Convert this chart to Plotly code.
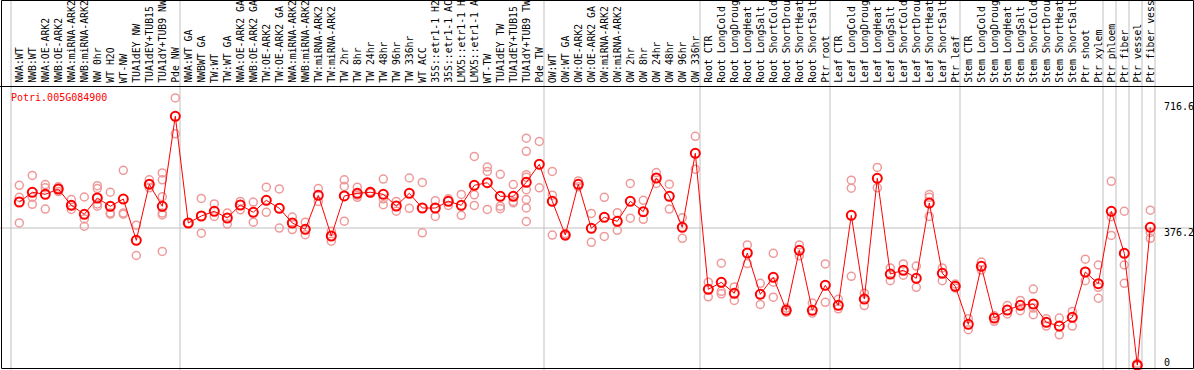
import plotly.graph_objects as go

# ---------------- data ----------------
gene = "Potri.005G084900"

labels = [
    "NWA:WT", "NWB:WT", "NWA:OE-ARK2", "NWB:OE-ARK2", "NWA:miRNA-ARK2", "NWB:miRNA-ARK2",
    "NW 0hr", "WT H2O", "WT-NW", "TUA1dEY NW", "TUA1dEY+TUB15", "TUA1dY+TUB9 NW", "Pde NW",
    "NWA:WT GA", "NWBWT GA", "TW:WT", "TW:WT GA", "NWA:OE-ARK2 GA", "NWB:OE-ARK2 GA",
    "TW:OE-ARK2", "TW:OE-ARK2 GA", "NWA:miRNA-ARK2", "NWB:miRNA-ARK2", "TW:miRNA-ARK2",
    "TW:miRNA-ARK2", "TW 2hr", "TW 8hr", "TW 24hr", "TW 48hr", "TW 96hr", "TW 336hr",
    "WT ACC", "35S::etr1-1 H2", "35S::etr1-1 AC", "LMX5::etr1-1 H", "LMX5::etr1-1 A",
    "WT-TW", "TUA1dEY TW", "TUA1dEY+TUB15", "TUA1dY+TUB9 TW", "Pde TW",
    "OW:WT", "OW:WT GA", "OW:OE-ARK2", "OW:OE-ARK2 GA", "OW:miRNA-ARK2", "OW:miRNA-ARK2",
    "OW 2hr", "OW 8hr", "OW 24hr", "OW 48hr", "OW 96hr", "OW 336hr",
    "Root CTR", "Root LongCold", "Root LongDroug", "Root LongHeat", "Root LongSalt",
    "Root ShortCold", "Root ShortDrou", "Root ShortHeat", "Root ShortSalt", "Ptr root",
    "Leaf CTR", "Leaf LongCold", "Leaf LongDroug", "Leaf LongHeat", "Leaf LongSalt",
    "Leaf ShortCold", "Leaf ShortDrou", "Leaf ShortHeat", "Leaf ShortSalt", "Ptr leaf",
    "Stem CTR", "Stem LongCold", "Stem LongDroug", "Stem LongHeat", "Stem LongSalt",
    "Stem ShortCold", "Stem ShortDrou", "Stem ShortHeat", "Stem ShortSalt", "Ptr shoot",
    "Ptr xylem", "Ptr phloem", "Ptr fiber", "Ptr vessel", "Ptr fiber vess",
]

means = [
    447.3, 473.9, 468.4, 482.9, 438.3, 413.7, 458.3, 435.6, 455.5, 342.5, 495.8, 435.6, 681.8,
    389.9, 409.0, 421.9, 403.6, 439.1, 419.2, 452.0, 430.1, 389.9, 372.6, 465.7, 354.3, 463.8,
    471.1, 473.9, 468.4, 436.4, 471.1, 430.9, 430.9, 449.3, 438.3, 493.0, 500.1, 462.9, 462.9,
    501.2, 550.5,
    449.3, 357.0, 495.8, 375.4, 405.5, 394.5, 449.3, 420.8, 513.0, 462.9, 378.1, 580.6,
    208.5, 227.6, 197.5, 307.8, 194.8, 241.3, 151.0, 315.2, 151.0, 219.4,
    164.7, 410.9, 181.9, 512.2, 250.3, 260.5, 238.6, 444.6, 252.3, 216.7,
    112.7, 271.4, 130.0, 151.8, 164.7, 168.3, 118.2, 108.1, 131.9, 255.8, 223.8,
    421.9, 307.0, 1.0, 378.1,
]

replicates = [
    [493, 460, 390], [520, 460, 441], [495, 486, 428], [489, 484, 476], [454, 438, 427],
    [461, 401, 381], [492, 484, 442, 436], [474, 417, 414], [534, 417, 414], [384, 301],
    [508, 496, 486], [527, 508, 462, 417, 412, 312], [732, 634],
    [390], [457, 362], [442, 408], [417, 387], [449, 426], [447, 392], [488, 419], [483, 376],
    [406, 372], [392, 358], [484, 449], [367, 340], [508, 490, 395], [488, 466, 460],
    [476, 472], [510, 456, 440], [449, 422], [513, 430], [501, 363], [451, 408], [456, 438],
    [468, 411], [572, 467, 438], [543, 531, 427], [523, 436, 429], [495, 449, 445],
    [622, 586, 522, 515, 481, 454, 431, 394], [613, 486],
    [531, 466, 357], [361, 354], [505, 489], [416, 337], [460, 353], [418, 370], [498, 403],
    [452, 400], [528, 498], [496, 428], [404, 348], [627, 537],
    [228, 188], [280, 203, 196], [215, 178], [330, 279], [225, 167], [307, 228, 187],
    [157, 146], [330, 300], [171, 143], [278, 173],
    [181, 155], [507, 485, 244], [198, 164], [542, 486], [267, 232], [278, 247], [272, 214],
    [468, 460, 408], [267, 232], [223, 212],
    [128, 98], [283, 261], [136, 121], [164, 141], [178, 150], [209, 157, 139], [128, 108],
    [130, 84], [148, 108], [291, 232], [275, 214, 184],
    [504, 407, 356], [422, 275, 225], [6, 0], [425, 364, 348],
]

tick_values = ["716.6", "376.2", "0"]
grid_value = 376.2
group_starts = [0, 13, 41, 53, 63, 73, 84, 85, 86, 87, 88]

# ---------------- figure ----------------
W, H = 1194, 370
FONT = "DejaVu Sans Mono"

rx, ry = [], []
for i, reps in enumerate(replicates):
    for v in reps:
        rx.append(i)
        ry.append(v)

xs = list(range(len(labels)))

fig = go.Figure()
fig.add_trace(go.Scatter(
    x=rx, y=ry, mode="markers",
    marker=dict(symbol="circle-open", size=8, color="#EE9A9A", line=dict(width=1.5, color="#EE9A9A")),
    hoverinfo="skip",
))
fig.add_trace(go.Scatter(
    x=xs, y=means, mode="lines+markers",
    line=dict(color="#FF0000", width=1),
    marker=dict(symbol="circle-open", size=9, color="#FF0000", line=dict(width=2, color="#FF0000")),
    hoverinfo="skip",
))

shapes = []
for k in group_starts:
    shapes.append(dict(type="line", xref="x", yref="paper", x0=k - 0.638, x1=k - 0.638,
                       y0=0, y1=1, line=dict(color="#C0C0C0", width=1), layer="below"))
shapes.append(dict(type="line", xref="paper", yref="y", x0=0, x1=1, y0=grid_value, y1=grid_value,
                   line=dict(color="#C0C0C0", width=1), layer="below"))
shapes.append(dict(type="line", xref="paper", yref="paper", x0=0, x1=1,
                   y0=1 - 86.5 / H, y1=1 - 86.5 / H, line=dict(color="black", width=1)))
shapes.append(dict(type="rect", xref="paper", yref="paper",
                   x0=1.5 / W, x1=1193.5 / W, y0=1 - 368.5 / H, y1=1 - 0.5 / H,
                   line=dict(color="black", width=1)))

annotations = []
for i, lab in enumerate(labels):
    annotations.append(dict(
        x=i, y=1 - 85 / H, xref="x", yref="paper", text=lab, showarrow=False,
        textangle=-90, xanchor="center", yanchor="bottom",
        font=dict(family=FONT, size=9.8, color="black"),
    ))
annotations.append(dict(
    x=9 / W, y=1 - 97 / H, xref="paper", yref="paper", text=gene, showarrow=False,
    xanchor="left", yanchor="middle", font=dict(family=FONT, size=10, color="#FF0000"),
))
for txt, ypx in zip(tick_values, [107, 232, 362]):
    annotations.append(dict(
        x=1162 / W, y=1 - ypx / H, xref="paper", yref="paper", text=txt, showarrow=False,
        xanchor="left", yanchor="middle", font=dict(family=FONT, size=10, color="black"),
    ))

fig.update_layout(
    width=W, height=H,
    margin=dict(l=0, r=0, t=0, b=0, pad=0),
    paper_bgcolor="white", plot_bgcolor="white",
    showlegend=False, hovermode=False,
    shapes=shapes, annotations=annotations,
    xaxis=dict(range=[-19.3 / 13, (W - 19.3) / 13], visible=False, fixedrange=True),
    yaxis=dict(range=[-12.3, 1000.0], visible=False, fixedrange=True),
)

fig.write_html("out.html", config={"displayModeBar": False})

# remove default page margin so the figure sits at the window's top-left corner
with open("out.html", "r", encoding="utf-8") as f:
    html = f.read()
html = html.replace("<body>", '<body style="margin:0;padding:0;overflow:hidden">', 1)
with open("out.html", "w", encoding="utf-8") as f:
    f.write(html)
